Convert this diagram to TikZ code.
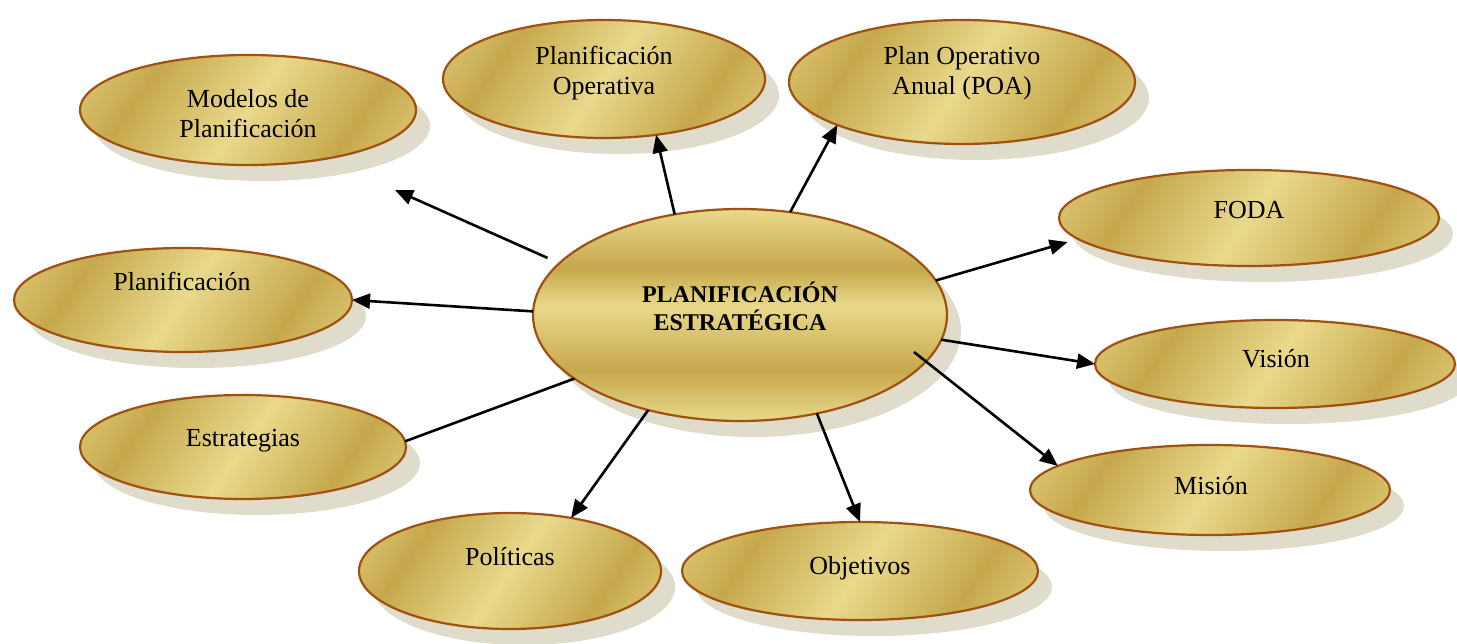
\documentclass[tikz,border=0pt]{standalone}
\usepackage{fontspec}
\setmainfont{Liberation Serif}
\usetikzlibrary{arrows.meta,shadows,calc,shapes.geometric}

\definecolor{goldlight}{HTML}{E9D98C}
\definecolor{golddark}{HTML}{C6A84C}
\definecolor{goldmid}{HTML}{D7C06C}
\definecolor{rim}{HTML}{A0500F}
\definecolor{shadowtan}{HTML}{E0DCCB}

% slanted metallic stripes for the outer bubbles
\pgfdeclarehorizontalshading{goldstripes}{100bp}{%
  color(0bp)=(goldmid); color(10bp)=(goldlight); color(30bp)=(golddark);
  color(50bp)=(goldlight); color(70bp)=(golddark); color(90bp)=(goldlight);
  color(100bp)=(goldmid)}
% horizontal bands for the central bubble
\pgfdeclareverticalshading{goldbands}{100bp}{%
  color(0bp)=(goldlight); color(25bp)=(goldlight); color(37bp)=(golddark);
  color(52bp)=(goldlight); color(61bp)=(golddark); color(75bp)=(goldlight);
  color(100bp)=(goldlight)}

\tikzset{
  bubble/.style={ellipse, draw=rim, line width=2.2pt, inner sep=0pt, outer sep=0pt,
    shade, shading=goldstripes, shading angle=-35,
    drop shadow={shadow xshift=14pt, shadow yshift=-16pt, fill=shadowtan, opacity=1}},
  hub/.style={bubble, shading=goldbands, shading angle=0},
  caption/.style={font=\fontsize{26}{30}\selectfont, align=center, inner sep=0pt},
  hubcaption/.style={font=\bfseries\fontsize{24}{28}\selectfont, align=center, inner sep=0pt},
  link/.style={line width=2.6pt, -{Triangle[length=18pt,width=15pt]}},
  plainlink/.style={line width=2.6pt},
}

\begin{document}
\begin{tikzpicture}[x=1pt,y=-1pt]
\fill[white] (0,0) rectangle (1457,644);
\useasboundingbox (0,0) rectangle (1457,644);

% bubbles
\node[bubble, minimum width=336pt, minimum height=110pt] (mod)    at (248,110) {};
\node[bubble, minimum width=322pt, minimum height=118pt] (planop) at (604,79)  {};
\node[bubble, minimum width=346pt, minimum height=124pt] (poa)    at (962,82)  {};
\node[bubble, minimum width=380pt, minimum height=96pt]  (foda)   at (1249,218) {};
\node[bubble, minimum width=360pt, minimum height=88pt]  (vision) at (1275,364) {};
\node[bubble, minimum width=360pt, minimum height=90pt]  (mision) at (1210,490) {};
\node[bubble, minimum width=356pt, minimum height=98pt]  (obj)    at (860,571) {};
\node[bubble, minimum width=302pt, minimum height=116pt] (pol)    at (510,571) {};
\node[bubble, minimum width=326pt, minimum height=104pt] (estr)   at (243,447) {};
\node[bubble, minimum width=338pt, minimum height=104pt] (plan)   at (183,300) {};
\node[hub,    minimum width=414pt, minimum height=212pt] (core)   at (740,315) {};

% captions
\node[caption] (t-mod)    at (248,114) {Modelos de\\Planificación};
\node[caption] (t-planop) at (604,73)  {Planificación\\Operativa};
\node[caption] (t-poa)    at (962,73)  {Plan Operativo\\Anual (POA)};
\node[caption, anchor=base] (t-foda)   at (1249,219) {FODA};
\node[caption, anchor=base] (t-vision) at (1276,367) {Visión};
\node[caption, anchor=base] (t-mision) at (1211,494) {Misión};
\node[caption, anchor=base] (t-obj)    at (860,574)  {Objetivos};
\node[caption, anchor=base] (t-pol)    at (510,565)  {Políticas};
\node[caption, anchor=base] (t-estr)   at (243,446)  {Estrategias};
\node[caption, anchor=base] (t-plan)   at (182,291)  {Planificación};
\node[hubcaption] (t-core) at (740,306) {PLANIFICACIÓN\\ESTRATÉGICA};

% connectors
\coordinate (modtip) at (395,190);
\draw[link, shorten <=13pt] (core.164.7) -- (modtip);
\draw[link] (core.179) -- (plan.east);
\draw[plainlink] (core.201.7) -- (estr.2);
\draw[link] (core.226.3) -- (pol.41);
\draw[link] (core.308.4) -- (obj.north);
\draw[link] ($(core.center)!0.91!(core.-12)$) -- (mision.171.8);
\draw[link] (core.-7.2) -- (vision.west);
\draw[link, shorten >=11pt] (core.10.1) -- (foda.187.2);
\draw[link] (core.64.5) -- (poa.199);
\draw[link] (core.123.4) -- (planop.-47);
\end{tikzpicture}
\end{document}
